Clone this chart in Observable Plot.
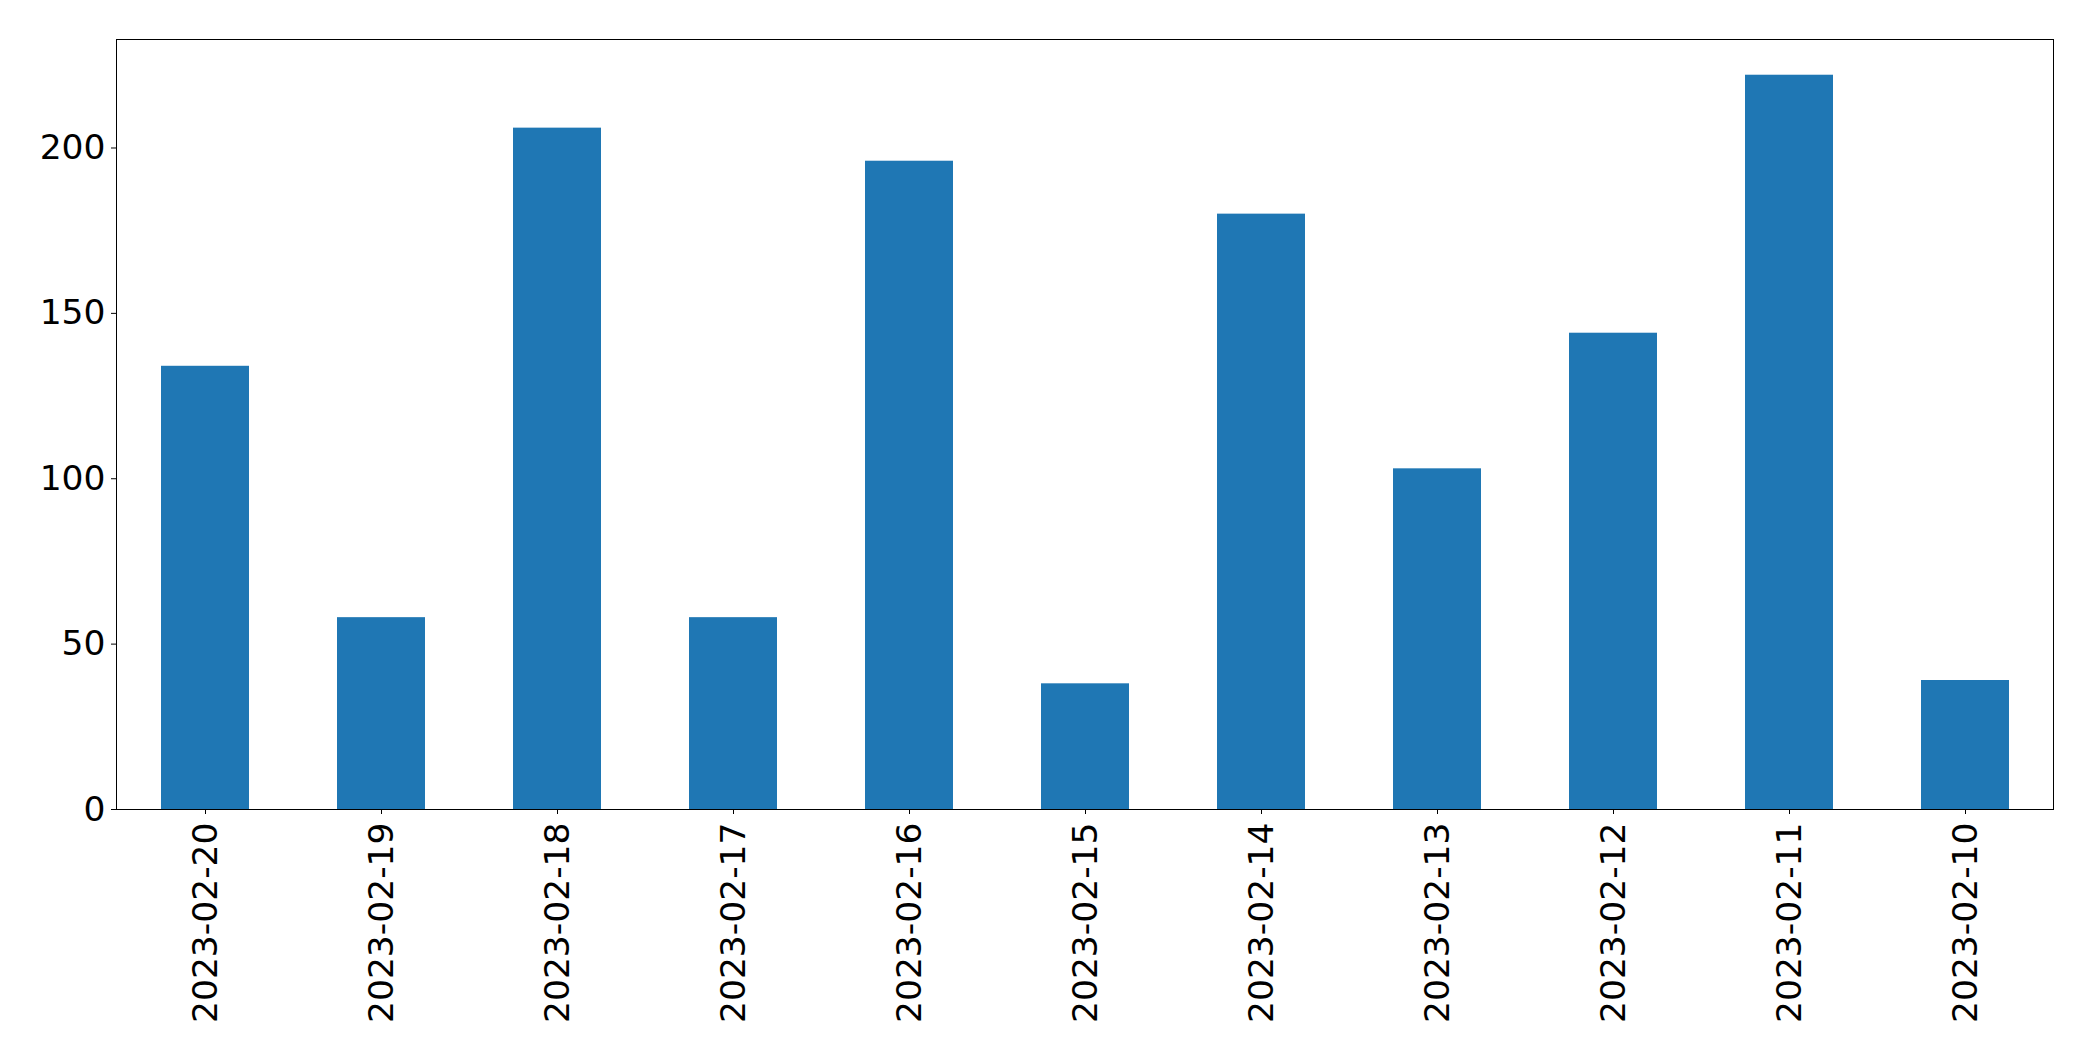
<!DOCTYPE html>
<html>
<head>
<meta charset="utf-8">
<script src="https://cdn.jsdelivr.net/npm/d3@7"></script>
<script src="https://cdn.jsdelivr.net/npm/@observablehq/plot@0.6"></script>
<style>
  html, body { margin: 0; padding: 0; background: #fff; }
  svg { display: block; }
</style>
</head>
<body>
<div id="chart"></div>
<script>
const dates = ["2023-02-20","2023-02-19","2023-02-18","2023-02-17","2023-02-16","2023-02-15","2023-02-14","2023-02-13","2023-02-12","2023-02-11","2023-02-10"];
const counts = [134, 58, 206, 58, 196, 38, 180, 103, 144, 222, 39];
const yTicks = [0, 50, 100, 150, 200];

const data = dates.map((d, i) => ({date: d, count: counts[i]}));

const chart = Plot.plot({
  width: 2093,
  height: 1061,
  marginLeft: 116,
  marginRight: 40,
  marginTop: 39,
  marginBottom: 252,
  style: {fontFamily: "DejaVu Sans", fontSize: "34.5px", color: "#000", background: "#fff"},
  x: {type: "band", domain: dates, paddingInner: 0.5, paddingOuter: 0.25, label: null},
  y: {domain: [0, 232.8], label: null},
  marks: [
    Plot.barY(data, {x: "date", y: "count", fill: "#1f77b4"}),
    Plot.axisY({ticks: yTicks, tickSize: 5, tickPadding: 6, fontSize: 34.5, label: null, stroke: "#000"}),
    Plot.axisX({tickSize: 5, tickPadding: 8, tickRotate: -90, fontSize: 34.5, label: null, stroke: "#000"}),
    Plot.frame({stroke: "#000", strokeWidth: 1})
  ]
});
document.getElementById("chart").appendChild(chart);
</script>
</body>
</html>
